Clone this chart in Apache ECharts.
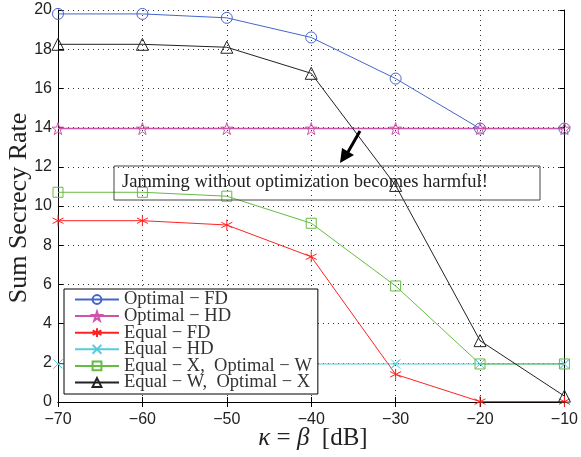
<!DOCTYPE html>
<html><head><meta charset="utf-8">
<script src="https://cdn.jsdelivr.net/npm/echarts@6/dist/echarts.min.js"></script>
<style>html,body{margin:0;padding:0;background:#fff}#c{width:581px;height:457px}</style>
</head><body><div id="c"></div>
<script>
var xValues = [-70, -60, -50, -40, -30, -20, -10];
var optimalFD = [19.8, 19.8, 19.6, 18.6, 16.5, 13.95, 13.95];
var optimalHD = [13.95, 13.95, 13.95, 13.95, 13.95, 13.95, 13.95];
var equalFD = [9.25, 9.25, 9.03, 7.41, 1.41, 0.02, 0.02];
var equalHD = [1.94, 1.94, 1.94, 1.94, 1.94, 1.94, 1.94];
var equalXOptW = [10.7, 10.7, 10.5, 9.12, 5.92, 1.94, 1.94];
var equalWOptX = [18.25, 18.25, 18.1, 16.77, 11.05, 3.13, 0.3];
var seriesNames = ['Optimal \u2212 FD', 'Optimal \u2212 HD', 'Equal \u2212 FD', 'Equal \u2212 HD', 'Equal \u2212 X,  Optimal \u2212 W', 'Equal \u2212 W,  Optimal \u2212 X'];

var STAR = 'path://M0,-1 L0.2245,-0.309 L0.951,-0.309 L0.363,0.118 L0.588,0.809 L0,0.382 L-0.588,0.809 L-0.363,0.118 L-0.951,-0.309 L-0.2245,-0.309 Z';
var AST = 'path://M0,-1 L0,1 M-0.87,-0.5 L0.87,0.5 M-0.87,0.5 L0.87,-0.5 M0,-1 Z';
var XS = 'path://M-1,-1 L1,1 M-1,1 L1,-1 Z';

function zip(ys){ return xValues.map(function(x,i){ return [x, ys[i]]; }); }
function mk(name, ys, color, symbol, size, lw){
  return {
    name: name, type: 'line', data: zip(ys), symbol: symbol, symbolSize: size,
    showAllSymbol: true,
    lineStyle: {color: color, width: lw || 1},
    itemStyle: {color: 'rgba(0,0,0,0)', borderColor: color, borderWidth: 1},
    emphasis: {disabled: true}, z: 3
  };
}
var chart = echarts.init(document.getElementById('c'));
var sans = 'Liberation Sans';
var serif = 'Liberation Serif';
chart.setOption({
  animation: false,
  backgroundColor: '#fff',
  grid: {left: 58, right: 8, top: 10, bottom: 55},
  xAxis: [{
    type: 'value', min: -70, max: -10, interval: 10,
    axisLine: {lineStyle: {color: '#000', width: 1}},
    axisTick: {inside: true, length: 5, lineStyle: {color: '#000'}},
    axisLabel: {color: '#222', fontFamily: sans, fontSize: 16, margin: 10,
      formatter: function(v){ return String(v).replace('-', '\u2212'); }},
    splitLine: {show: true, lineStyle: {color: '#333', type: [1, 4], width: 1}}
  }, {
    type: 'value', min: -70, max: -10, interval: 10, position: 'top',
    axisLine: {lineStyle: {color: '#000'}},
    axisTick: {inside: true, length: 5, lineStyle: {color: '#000'}},
    axisLabel: {show: false}, splitLine: {show: false}
  }],
  yAxis: [{
    type: 'value', min: 0, max: 20, interval: 2,
    axisLine: {show: true, lineStyle: {color: '#000', width: 1}},
    axisTick: {show: true, inside: true, length: 5, lineStyle: {color: '#000'}},
    axisLabel: {color: '#222', fontFamily: sans, fontSize: 16, margin: 6},
    splitLine: {show: true, lineStyle: {color: '#333', type: [1, 4], width: 1}}
  }, {
    type: 'value', min: 0, max: 20, interval: 2, position: 'right',
    axisLine: {show: true, lineStyle: {color: '#000'}},
    axisTick: {show: true, inside: true, length: 5, lineStyle: {color: '#000'}},
    axisLabel: {show: false}, splitLine: {show: false}
  }],
  legend: {
    left: 64, top: 289, orient: 'vertical', itemWidth: 44, itemHeight: 11, itemGap: -2.4,
    padding: [1, 6, 2, 10], borderColor: '#000', borderWidth: 1, backgroundColor: '#fff',
    textStyle: {fontFamily: serif, fontSize: 18.5, lineHeight: 17, color: '#333'},
    data: seriesNames
  },
  series: [
    mk(seriesNames[0], optimalFD, '#4466cc', 'circle', 11),
    mk(seriesNames[1], optimalHD, '#cc55aa', STAR, 12, 1.5),
    mk(seriesNames[2], equalFD, '#ff2222', AST, 11),
    mk(seriesNames[3], equalHD, '#55ccdd', XS, 9),
    mk(seriesNames[4], equalXOptW, '#66bb44', 'rect', 10),
    mk(seriesNames[5], equalWOptX, '#222222', 'triangle', 12)
  ],
  graphic: [
    {type: 'rect', shape: {x: 114, y: 166, width: 426, height: 34}, style: {fill: 'rgba(0,0,0,0)', stroke: '#444', lineWidth: 1}, z: 10},
    {type: 'text', x: 122, y: 182, style: {text: 'Jamming without optimization becomes harmful!', font: '18.5px "Liberation Serif"', fill: '#222', textVerticalAlign: 'middle'}, z: 10},
    {type: 'line', shape: {x1: 360, y1: 131, x2: 348, y2: 152}, style: {stroke: '#000', lineWidth: 3}, z: 10},
    {type: 'polygon', shape: {points: [[340, 163], [342, 148], [354, 155]]}, style: {fill: '#000'}, z: 10},
    {type: 'text', x: 19, y: 208, rotation: Math.PI / 2, style: {text: 'Sum Secrecy Rate', font: '26px "Liberation Serif"', fill: '#222', textAlign: 'center', textVerticalAlign: 'middle'}},
    {type: 'text', x: 313, y: 438, style: {rich: {
        i: {fontFamily: serif, fontStyle: 'italic', fontSize: 25, fill: '#222'},
        n: {fontFamily: serif, fontSize: 25, fill: '#222'}
      }, text: '{i|\u03ba}{n| = }{i|\u03b2}{n|  [dB]}', textAlign: 'center', textVerticalAlign: 'middle'}}
  ]
});
</script></body></html>
